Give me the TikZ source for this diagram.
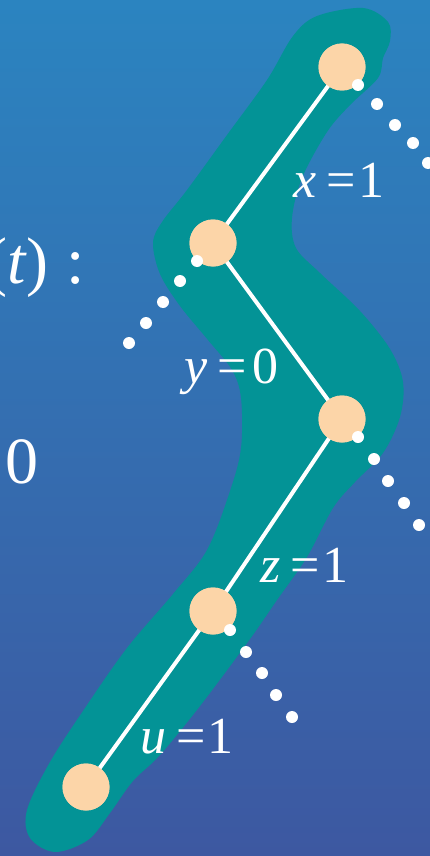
\documentclass[tikz,border=0pt]{standalone}
\usepackage{fontspec}
\setmainfont{Liberation Serif}
\usepackage{xcolor}
\definecolor{skytop}{RGB}{43,132,192}
\definecolor{skybot}{RGB}{61,88,161}
\definecolor{blob}{RGB}{3,147,150}
\definecolor{peach}{RGB}{252,213,168}
\newcommand{\eqgap}{\kern0.2em=}

\begin{document}
\begin{tikzpicture}[x=1pt,y=-1pt,line cap=round,
  vertex/.style={circle,fill=peach,minimum size=47pt,inner sep=0pt},
  lbl/.style={text=white,inner sep=0pt,font=\fontsize{52}{60}\selectfont},
  side/.style={text=white,inner sep=0pt,font=\fontsize{66}{76}\selectfont},
  link/.style={white,line width=4pt}]
\useasboundingbox (0,0) rectangle (430,856);
\clip (0,0) rectangle (430,856);
\shade[top color=skytop,bottom color=skybot] (0,0) rectangle (430,856);
% the bent region
\fill[blob] plot[smooth cycle,tension=0.55] coordinates {
  (317,16) (363,8) (388,22) (390,41) (383,58) (378,78) (350,105)
  (327,132) (302,178) (292,218) (296,248) (320,273) (360,311)
  (390,349) (403,382) (400,417) (383,453) (355,482) (333,508)
  (307,557) (277,600) (250,639) (200,706) (160,755) (133,781)
  (110,813) (88,840) (55,852) (30,838) (27,810) (50,762)
  (85,708) (127,648) (173,594) (207,550) (230,491) (241,448)
  (241,398) (232,370) (208,340) (180,306) (160,274) (153,243)
  (162,222) (187,190) (227,135) (267,80) (293,36)};
% path of vertices
\node[vertex] (a) at (342,67) {};
\node[vertex] (b) at (213,243) {};
\node[vertex] (c) at (342,419) {};
\node[vertex] (d) at (213,611) {};
\node[vertex] (e) at (86,787) {};
\draw[link] (a.center) -- (b.center);
\draw[link] (b.center) -- (c.center);
\draw[link] (c.center) -- (d.center);
\draw[link] (d.center) -- (e.center);
\foreach \v in {a,b,c,d,e}
  \fill[peach] (\v) circle (23.5pt);
% dotted tails
\foreach \px/\py in {358/85,377/104,395/125,413/143,428/163,
                     197/261,180/281,163/302,146/323,129/343,
                     358/437,374/459,388/481,404/503,419/525,
                     230/630,246/652,262/673,276/695,292/717}
  \fill[white] (\px,\py) circle (6pt);
% edge values
\node[lbl,anchor=base west] (lx) at (293,197) {\textit{x}\eqgap\kern0.04em 1};
\node[lbl,anchor=base west] (ly) at (184,383) {\textit{y}\eqgap\kern0.11em 0};
\node[lbl,anchor=base west] (lz) at (260,582) {\textit{z}\eqgap\kern0.04em 1};
\node[lbl,anchor=base west] (lu) at (140,753) {\textit{u}\eqgap\kern0.04em 1};
% text cut off at the left
\node[side,anchor=base west] (rt) at (-15,283) {(\textit{t})\kern0.27em:};
\node[side,anchor=base west] (zr) at (5,483) {0};
\end{tikzpicture}
\end{document}
